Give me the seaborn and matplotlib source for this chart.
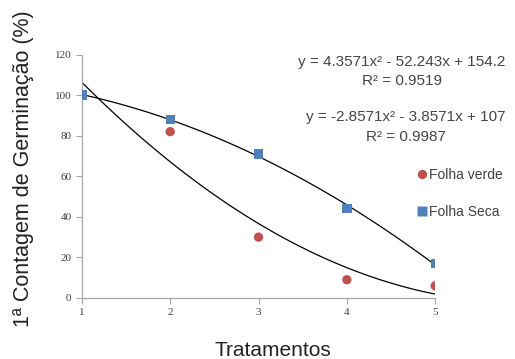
import numpy as np
import pandas as pd
import matplotlib
matplotlib.use('Agg')
import matplotlib.pyplot as plt
import seaborn as sns

# Dados
tratamentos = [1, 2, 3, 4, 5]
folha_verde = [100, 82, 30, 9, 6]
folha_seca = [100, 88, 71, 44, 17]

# Coeficientes das linhas de tendência (polinomial grau 2)
coef_verde = [4.3571, -52.243, 154.2]
coef_seca = [-2.8571, -3.8571, 107]

df = pd.DataFrame({
    'Tratamentos': tratamentos * 2,
    'valor': folha_verde + folha_seca,
    'serie': ['Folha verde'] * 5 + ['Folha Seca'] * 5,
})

sns.set_style('white')
plt.rcParams['font.family'] = ['Liberation Sans', 'DejaVu Sans']

fig = plt.figure(figsize=(5.15, 3.59), dpi=100)
ax = fig.add_axes([0.159, 0.17, 0.686, 0.678])

xs = np.linspace(1, 5, 100)
ax.plot(xs, np.polyval(coef_verde, xs), color='black', lw=0.9)
ax.plot(xs, np.polyval(coef_seca, xs), color='black', lw=0.9)

sns.scatterplot(data=df, x='Tratamentos', y='valor', hue='serie', style='serie',
                palette={'Folha verde': '#c0504d', 'Folha Seca': '#4f81bd'},
                markers={'Folha verde': 'o', 'Folha Seca': 's'},
                s=45, edgecolor='none', ax=ax, zorder=3)

ax.set_xlim(1, 5)
ax.set_ylim(0, 120)
ax.set_xticks([1, 2, 3, 4, 5])
ax.set_yticks(range(0, 121, 20))
sns.despine(ax=ax)
for s in ['left', 'bottom']:
    ax.spines[s].set_color('#a6a6a6')
    ax.spines[s].set_linewidth(0.9)
ax.tick_params(axis='both', which='both', length=4, width=0.8, color='#a6a6a6',
               labelsize=8, labelcolor='#404040', direction='out', bottom=True, left=True)
for lab in ax.get_xticklabels() + ax.get_yticklabels():
    lab.set_family(['Liberation Serif', 'DejaVu Serif'])

ax.set_xlabel('Tratamentos', fontsize=15, color='#222222')
ax.xaxis.set_label_coords(0.54, -0.175)
ax.set_ylabel('1ª Contagem de Germinação (%)', fontsize=15.5, color='#222222')
ax.yaxis.set_label_coords(-0.135, 0.53)

# Equações das linhas de tendência
eq_kw = dict(fontsize=11, color='#454545', ha='center', va='center')
ax.text(4.62, 116.1, 'y = 4.3571x² - 52.243x + 154.2', **eq_kw)
ax.text(4.62, 107.2, 'R² = 0.9519', **eq_kw)
ax.text(4.67, 89.0, 'y = -2.8571x² - 3.8571x + 107', **eq_kw)
ax.text(4.67, 79.2, 'R² = 0.9987', **eq_kw)

ax.legend(loc='center left', bbox_to_anchor=(0.943, 0.43), frameon=False, fontsize=10,
          handletextpad=0.0, handlelength=1.0, labelspacing=1.7, labelcolor='#404040',
          markerscale=1.0, borderpad=0, borderaxespad=0)

fig.savefig('out.png', dpi=100)
